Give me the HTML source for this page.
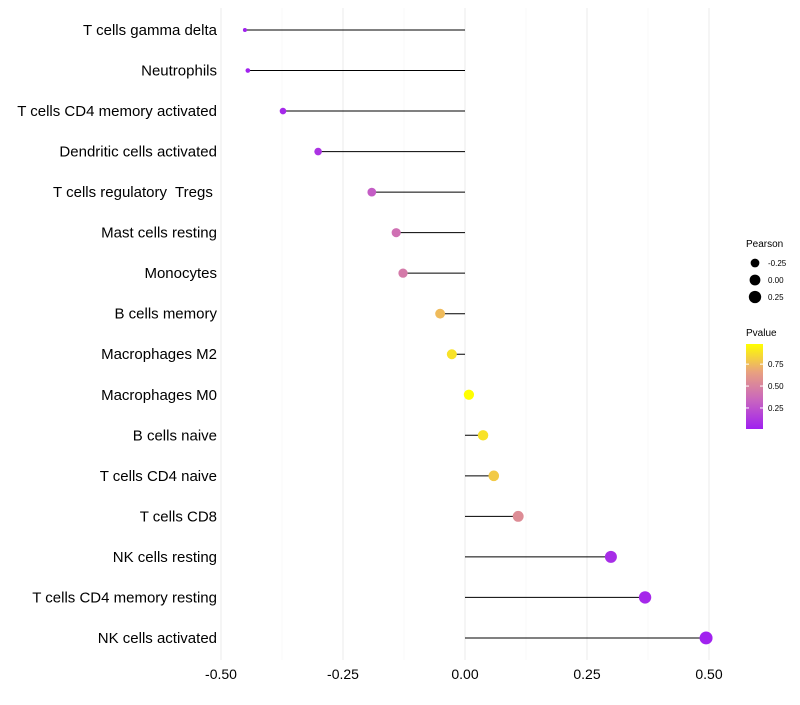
<!DOCTYPE html>
<html><head><meta charset="utf-8"><style>
body{margin:0;background:#fff;font-family:"Liberation Sans",sans-serif}
text{white-space:pre}
</style></head><body>
<svg id="chart" width="800" height="700" xmlns="http://www.w3.org/2000/svg">
<g id="grid"></g><g id="marks"></g><g id="labels"></g><g id="legend"></g>
</svg>
<script>
const categories=["T cells gamma delta","Neutrophils","T cells CD4 memory activated","Dendritic cells activated","T cells regulatory  Tregs ","Mast cells resting","Monocytes","B cells memory","Macrophages M2","Macrophages M0","B cells naive","T cells CD4 naive","T cells CD8","NK cells resting","T cells CD4 memory resting","NK cells activated"];
const pearson=[-0.451,-0.445,-0.373,-0.301,-0.191,-0.141,-0.127,-0.051,-0.027,0.008,0.037,0.059,0.109,0.299,0.369,0.494];
const pvalues=[0.02,0.02,0.05,0.1,0.3,0.4,0.45,0.75,0.88,0.98,0.88,0.8,0.55,0.07,0.05,0.02];
const xTicks=[-0.5,-0.25,0,0.25,0.5];
const xTickLabels=["-0.50","-0.25","0.00","0.25","0.50"];
const sizeLegend=[-0.25,0,0.25];
const sizeLegendLabels=["-0.25","0.00","0.25"];
const pTicks=[0.25,0.5,0.75];
const pTickLabels=["0.25","0.50","0.75"];

const NS="http://www.w3.org/2000/svg";
const x=v=>465+v*488;
const y=i=>30+i*40.53;
const r=v=>2+4.5*Math.sqrt(Math.max(0,(v+0.45)/0.95));
function lerp(a,b,t){return a.map((c,k)=>Math.round(c+(b[k]-c)*t));}
function col(p){const s=[[160,32,240],[200,100,192],[232,160,128],[255,255,0]];
 const t=Math.max(0,Math.min(1,(p-0.01)/0.97))*3;const k=Math.min(2,Math.floor(t));return `rgb(${lerp(s[k],s[k+1],t-k)})`;}
function mk(tag,attrs,parent,text){const e=document.createElementNS(NS,tag);for(const k in attrs)e.setAttribute(k,attrs[k]);if(text!=null)e.textContent=text;parent.appendChild(e);return e;}
const grid=document.getElementById('grid'),marks=document.getElementById('marks'),labels=document.getElementById('labels'),legend=document.getElementById('legend');
for(let v=-0.5;v<=0.5001;v+=0.125){const maj=Math.abs((v*4)%1)<1e-6;const g=mk('line',{x1:x(v),x2:x(v),y1:8,y2:660,stroke:maj?'#ebebeb':'#f4f4f4','stroke-width':maj?1:0.6},grid);

}
xTicks.forEach((v,i)=>{const t=mk('text',{x:x(v),y:679,'text-anchor':'middle','font-size':14,fill:'#000'},labels,xTickLabels[i]);

});
categories.forEach((c,i)=>{
 const t=mk('text',{x:217,y:y(i)+5,'text-anchor':'end','font-size':15,fill:'#000'},labels,c);
 
 
 const l=mk('line',{x1:x(0),x2:x(pearson[i]),y1:y(i),y2:y(i),stroke:'#000','stroke-width':1},marks);
 
 
 const p=mk('circle',{cx:x(pearson[i]),cy:y(i),r:r(pearson[i]),fill:col(pvalues[i])},marks);
 
 
});
let t=mk('text',{x:746,y:247,'font-size':10},legend,'Pearson');


sizeLegend.forEach((v,i)=>{const yy=263+i*17;
 const c=mk('circle',{cx:755,cy:yy,r:r(v)+0.3,fill:'#000'},legend);
 
 
 const tt=mk('text',{x:768,y:yy+3,'font-size':8},legend,sizeLegendLabels[i]);
 
 });
t=mk('text',{x:746,y:336,'font-size':10},legend,'Pvalue');


const defs=mk('defs',{},legend);const lg=mk('linearGradient',{id:'pg',x1:0,y1:1,x2:0,y2:0},defs);
for(let k=0;k<=12;k++)mk('stop',{offset:k/12,'stop-color':col(0.01+0.97*k/12)},lg);
const bar=mk('rect',{x:746,y:344,width:17,height:85,fill:'url(#pg)'},legend);


const py=p=>429-(p-0.01)/0.97*85;
pTicks.forEach((p,i)=>{mk('line',{x1:746,x2:749,y1:py(p),y2:py(p),stroke:'#fff'},legend);mk('line',{x1:760,x2:763,y1:py(p),y2:py(p),stroke:'#fff'},legend);
 const tt=mk('text',{x:768,y:py(p)+3,'font-size':8},legend,pTickLabels[i]);
 
 });
</script>
</body></html>
